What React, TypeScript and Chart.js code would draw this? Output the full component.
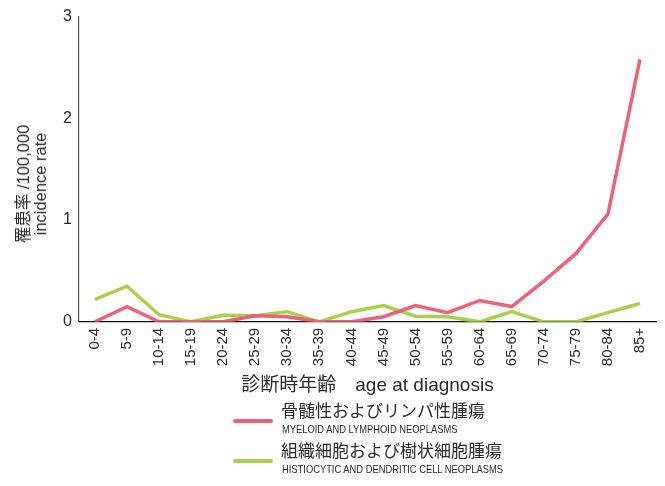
import React, { useEffect, useRef } from "react";
import { Chart, registerables } from "chart.js";

Chart.register(...registerables);

const ageGroups = ["0-4","5-9","10-14","15-19","20-24","25-29","30-34","35-39","40-44","45-49","50-54","55-59","60-64","65-69","70-74","75-79","80-84","85+"];
const myeloidLymphoid = [0, 0.15, 0, 0, 0, 0.06, 0.05, 0, 0, 0.05, 0.16, 0.09, 0.21, 0.15, 0.40, 0.67, 1.06, 2.58];
const histiocyticDendritic = [0.22, 0.35, 0.07, 0, 0.065, 0.06, 0.10, 0, 0.10, 0.16, 0.055, 0.05, 0, 0.10, 0, 0, 0.09, 0.18];
const yTicks = [0, 1, 2, 3];

const RED = "#ef6178";
const GREEN = "#a8d04a";
const TEXT = "#2a2a2a";
const SANS = "'Liberation Sans', Arial, 'Noto Sans CJK JP', sans-serif";

export default function App() {
  const ref = useRef<HTMLCanvasElement>(null);
  useEffect(() => {
    if (!ref.current) return;
    const chart = new Chart(ref.current, {
      type: "line",
      data: {
        labels: ageGroups,
        datasets: [
          { label: "骨髄性およびリンパ性腫瘍", data: myeloidLymphoid, borderColor: RED, backgroundColor: RED, borderWidth: 3.5, pointRadius: 0, tension: 0 },
          { label: "組織細胞および樹状細胞腫瘍", data: histiocyticDendritic, borderColor: GREEN, backgroundColor: GREEN, borderWidth: 3.5, pointRadius: 0, tension: 0 },
        ],
      },
      options: {
        animation: false,
        responsive: false,
        maintainAspectRatio: false,
        layout: { padding: { left: 56, right: 9, top: 8, bottom: 3 } },
        plugins: { legend: { display: false }, tooltip: { enabled: false } },
        scales: {
          x: {
            offset: true,
            grid: { display: false, drawTicks: false },
            border: { display: true, color: "#111", width: 1.2 },
            ticks: { color: TEXT, font: { family: SANS, size: 15 }, minRotation: 90, maxRotation: 90, padding: 6, autoSkip: false },
            title: { display: true, text: "診断時年齢　age at diagnosis", color: TEXT, font: { family: SANS, size: 19 }, padding: { top: 2, bottom: 0 } },
          },
          y: {
            min: 0,
            max: 3,
            afterBuildTicks: (axis: any) => { axis.ticks = yTicks.map((v) => ({ value: v })); },
            grid: { display: false, drawTicks: false },
            border: { display: true, color: "#555", width: 1.2 },
            ticks: { color: TEXT, font: { family: SANS, size: 16 }, padding: 7 },
          },
        },
      },
    });
    return () => chart.destroy();
  }, []);

  const legendItems = [
    { color: RED, jp: "骨髄性およびリンパ性腫瘍", en: "MYELOID AND LYMPHOID NEOPLASMS", top: 400 },
    { color: GREEN, jp: "組織細胞および樹状細胞腫瘍", en: "HISTIOCYTIC AND DENDRITIC CELL NEOPLASMS", top: 440 },
  ];

  return (
    <div style={{ position: "fixed", left: 0, top: 0, width: 665, height: 486, background: "#fff", overflow: "hidden" }}>
      <canvas ref={ref} width={665} height={400} style={{ position: "absolute", left: 0, top: 0, width: 665, height: 400 }} />
      <div style={{ position: "absolute", left: 32, top: 184, transform: "translate(-50%, -50%) rotate(-90deg)", whiteSpace: "nowrap", textAlign: "center", color: TEXT, fontFamily: SANS, fontSize: 16.5, lineHeight: "17px" }}>
        罹患率 /100,000<br />incidence rate
      </div>
      {legendItems.map((it) => (
        <div key={it.en} style={{ position: "absolute", left: 233, top: it.top, color: TEXT }}>
          <div style={{ position: "absolute", left: 0, top: 19, width: 40, height: 4, background: it.color, borderRadius: 2 }} />
          <div style={{ position: "absolute", left: 48, top: 0, whiteSpace: "nowrap", fontFamily: "'Noto Sans CJK JP', sans-serif", fontSize: 17, lineHeight: "20px" }}>{it.jp}</div>
          <div style={{ position: "absolute", left: 49, top: 23, whiteSpace: "nowrap", fontFamily: "'Liberation Sans Narrow', 'Liberation Sans', sans-serif", fontSize: 11, lineHeight: "13px", transform: "scaleX(0.85)", transformOrigin: "left" }}>{it.en}</div>
        </div>
      ))}
    </div>
  );
}
